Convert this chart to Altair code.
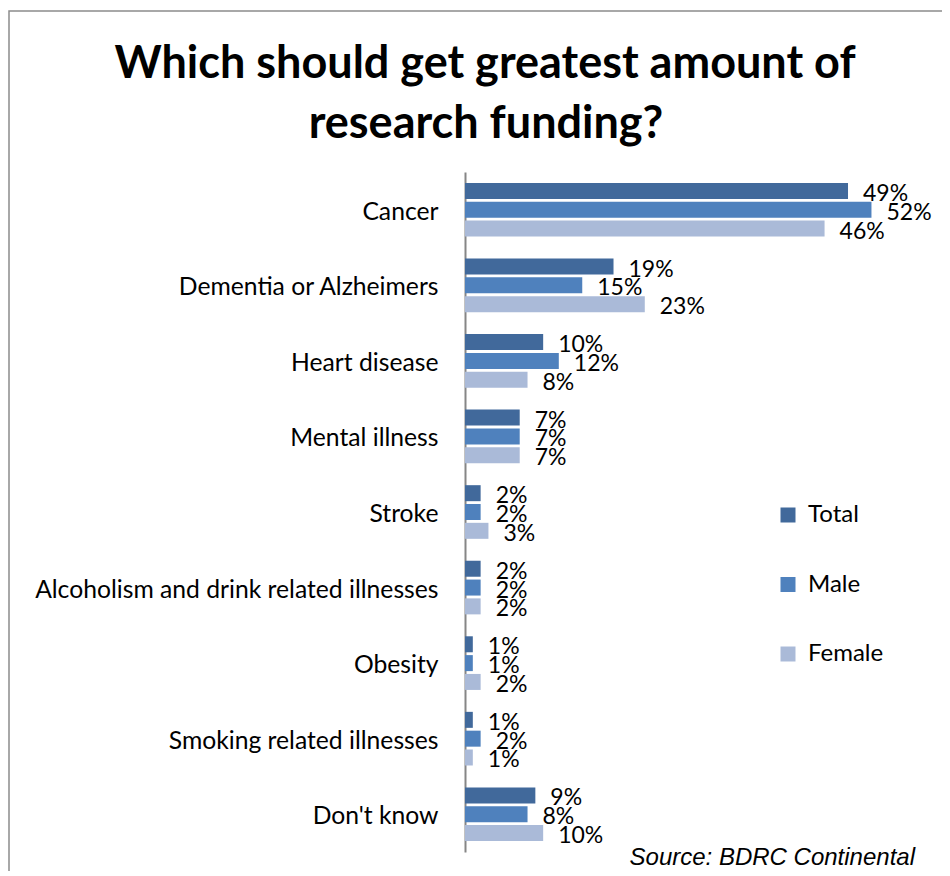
import altair as alt
import pandas as pd

categories = ["Cancer", "Dementia or Alzheimers", "Heart disease", "Mental illness",
              "Stroke", "Alcoholism and drink related illnesses", "Obesity",
              "Smoking related illnesses", "Don't know"]
series = ["Total", "Male", "Female"]
total = [49, 19, 10, 7, 2, 2, 1, 1, 9]
male = [52, 15, 12, 7, 2, 2, 1, 2, 8]
female = [46, 23, 8, 7, 3, 2, 2, 1, 10]
colors = ["#41699B", "#4F81BD", "#AABAD8"]
title_lines = ["Which should get greatest amount of", "research funding?"]
source_text = "Source: BDRC Continental"

rows = []
for i, c in enumerate(categories):
    for s, vals in zip(series, [total, male, female]):
        rows.append({"category": c, "series": s, "value": vals[i],
                     "label": f"{vals[i]}%"})
df = pd.DataFrame(rows)

FONT = "Lato"

y_enc = alt.Y("category:N", sort=categories,
              scale=alt.Scale(paddingInner=0.29, paddingOuter=0.145),
              axis=alt.Axis(title=None, ticks=False, domainColor="#868686",
                            domainWidth=2, labelFontSize=24.7, labelColor="#000000",
                            labelFont=FONT, labelPadding=27, labelLimit=500,
                            labelOffset=3))
yoff = alt.YOffset("series:N", sort=series,
                   scale=alt.Scale(paddingInner=0.15, paddingOuter=0))
x_enc = alt.X("value:Q", scale=alt.Scale(domain=[0, 60]), axis=None)

base = alt.Chart(df)

bars = base.mark_bar().encode(
    y=y_enc, yOffset=yoff, x=x_enc,
    color=alt.Color("series:N", sort=series,
                    scale=alt.Scale(domain=series, range=colors),
                    legend=alt.Legend(title=None, orient="none", legendX=311,
                                      legendY=331, symbolType="square",
                                      symbolSize=225, symbolStrokeWidth=0,
                                      labelFontSize=24, labelFont=FONT,
                                      labelColor="#000000", rowPadding=45.5,
                                      labelOffset=8))
)

labels = base.mark_text(align="left", baseline="middle", dx=15, dy=3,
                        fontSize=23, font=FONT, color="#000000").encode(
    y=alt.Y("category:N", sort=categories), yOffset=yoff, x=x_enc,
    text="label:N"
)

src = alt.Chart(pd.DataFrame({"t": [source_text]})).mark_text(
    align="right", baseline="alphabetic", fontSize=24, fontStyle="italic",
    font="Liberation Sans", color="#000000"
).encode(x=alt.value(450), y=alt.value(693), text="t:N")

title1 = alt.Chart(pd.DataFrame({"t": [title_lines[0]]})).mark_text(
    align="center", baseline="alphabetic", fontSize=45, fontWeight="bold",
    font=FONT, color="#000000"
).encode(x=alt.value(20), y=alt.value(-94), text="t:N")
title2 = alt.Chart(pd.DataFrame({"t": [title_lines[1]]})).mark_text(
    align="center", baseline="alphabetic", fontSize=45, fontWeight="bold",
    font=FONT, color="#000000"
).encode(x=alt.value(21), y=alt.value(-34), text="t:N")

border = alt.Chart(pd.DataFrame({"a": [0]})).mark_rect(
    fill=None, stroke="#8C8C8C", strokeWidth=1.5
).encode(x=alt.value(-456), x2=alt.value(520), y=alt.value(-161), y2=alt.value(760))

chart = alt.layer(border, bars, labels, src, title1, title2).properties(
    width=469, height=680,
    autosize=alt.AutoSizeParams(type="none"),
    padding={"left": 457, "top": 164, "right": 8, "bottom": 19},
).configure_view(stroke=None)

chart.save("out.html", embed_options={"renderer": "svg", "actions": False})
